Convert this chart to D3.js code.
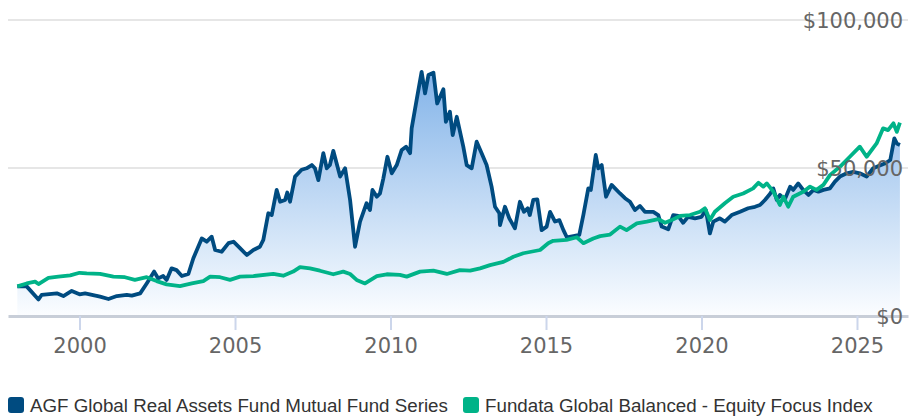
<!DOCTYPE html>
<html>
<head>
<meta charset="utf-8">
<script src="https://d3js.org/d3.v7.min.js"></script>
<style>
  body { margin: 0; background: #fff; }
</style>
</head>
<body>
<div id="chart"></div>
<script>

// growth of $10,000
var fundYears = [1998.00,1998.30,1998.68,1998.78,1999.27,1999.48,1999.75,2000.00,2000.18,2000.66,2000.93,2001.20,2001.52,2001.68,2001.95,
  2002.16,2002.40,2002.53,2002.69,2002.80,2002.96,2003.12,2003.29,2003.50,2003.66,2003.93,2004.09,2004.25,2004.36,2004.57,2004.79,2004.95,
  2005.16,2005.38,2005.59,2005.80,2005.91,2006.07,2006.18,2006.34,2006.45,2006.61,2006.68,2006.77,2006.93,2007.14,2007.30,2007.47,2007.57,
  2007.68,2007.84,2007.95,2008.05,2008.16,2008.38,2008.54,2008.70,2008.86,2009.02,2009.23,2009.34,2009.42,2009.56,2009.66,2009.77,2009.90,
  2010.04,2010.20,2010.36,2010.50,2010.63,2010.68,2010.84,2011.00,2011.11,2011.22,2011.38,2011.50,2011.70,2011.78,2011.91,2012.00,2012.13,
  2012.34,2012.45,2012.61,2012.77,2012.93,2013.09,2013.25,2013.36,2013.50,2013.52,2013.68,2013.82,2014.00,2014.16,2014.29,2014.41,2014.48,
  2014.59,2014.72,2014.86,2015.02,2015.13,2015.29,2015.43,2015.56,2015.67,2015.88,2016.07,2016.20,2016.36,2016.44,2016.60,2016.68,2016.79,
  2016.93,2017.11,2017.38,2017.54,2017.70,2017.86,2018.02,2018.18,2018.45,2018.61,2018.72,2018.93,2019.09,2019.25,2019.41,2019.57,2019.79,
  2020.00,2020.14,2020.27,2020.38,2020.59,2020.75,2020.97,2021.24,2021.50,2021.72,2021.88,2022.04,2022.20,2022.31,2022.42,2022.52,2022.68,
  2022.85,2022.95,2023.11,2023.27,2023.44,2023.60,2023.76,2023.92,2024.13,2024.29,2024.45,2024.67,2024.88,2025.09,2025.31,2025.52,2025.91,
  2026.07,2026.20,2026.28,2026.38];
var fundValues = [10000,10000,5600,7100,7650,6750,8450,7330,7650,6530,5740,6750,7100,6870,7650,
  11000,15000,12700,13500,12200,16100,15500,13500,14200,19500,26200,25100,26800,22300,21700,24600,25100,
  22900,20600,22300,23400,25700,34700,34100,42600,38600,39200,41700,38600,47100,49400,49900,51000,49900,
  45900,55000,49900,51000,55800,47100,49900,39200,23400,31900,38100,35800,42600,40300,41400,46500,53800,
  48200,51000,56100,57200,55000,63400,73000,82500,75200,81400,82200,71800,76600,65600,69000,61100,67300,
  57200,51000,49900,58900,55000,51000,43700,36900,34700,30700,36900,33000,29600,38600,35200,36400,34100,
  39200,39400,29000,30200,35200,31900,32400,29000,26600,27000,27400,34100,43100,42600,54400,49900,51000,
  40300,44300,41400,39800,38600,35800,37200,35200,35200,34100,30200,29300,34100,33800,31500,33500,33000,
  33500,35800,27900,31900,33000,31900,34100,35200,36400,36900,37500,39200,41200,43100,39200,40900,39400,
  43700,42600,44800,42600,40900,42600,42000,42600,43100,45400,47100,48200,48700,48200,47100,49900,51600,
  52700,60000,58300,57800];

var indexYears = [1998.00,1998.30,1998.57,1998.68,1999.00,1999.32,1999.70,2000.00,2000.23,2000.66,2001.09,2001.46,2001.78,2002.16,2002.48,
  2002.80,2003.23,2003.61,2003.98,2004.20,2004.52,2004.84,2005.16,2005.59,2006.23,2006.55,2006.87,2007.09,2007.41,2007.73,2008.16,2008.48,
  2008.70,2008.91,2009.18,2009.56,2009.88,2010.30,2010.52,2010.95,2011.38,2011.81,2012.23,2012.56,2012.88,2013.20,2013.63,2013.95,2014.27,
  2014.81,2015.07,2015.23,2015.66,2015.99,2016.20,2016.52,2016.74,2017.06,2017.38,2017.59,2017.92,2018.24,2018.61,2018.83,2019.04,2019.31,
  2019.63,2019.95,2020.11,2020.27,2020.43,2020.75,2021.02,2021.34,2021.66,2021.83,2021.99,2022.10,2022.31,2022.52,2022.63,2022.79,2022.95,
  2023.27,2023.49,2023.70,2023.92,2024.13,2024.45,2024.77,2025.09,2025.31,2025.63,2025.84,2026.00,2026.17,2026.28,2026.38];
var indexValues = [10000,11000,11600,10800,12900,13300,13700,14600,14400,14200,13300,13100,12200,13100,11800,
  10700,10100,11000,11800,13300,13100,12200,13300,13500,14200,13600,15000,16500,16100,15300,14100,15000,
  14200,12200,11000,13500,14100,13900,13300,15000,15300,14200,15500,15300,16100,17200,18300,20000,21200,
  22300,24600,25400,25700,26600,24600,26200,27000,27500,30200,29000,31300,31900,32700,31500,32400,33800,
  34100,35200,36400,32400,35200,38100,40300,41400,43100,45000,43700,44800,42000,37500,40300,36900,40300,
  42000,43700,42600,44300,47600,50400,53800,57200,53800,58300,63400,62800,65100,62200,65300];

var seriesNames = ["AGF Global Real Assets Fund Mutual Fund Series", "Fundata Global Balanced - Equity Focus Index"];
var seriesColors = ["#004b80", "#00b388"];
var yTicks = [0, 50000, 100000];
var xTicks = [2000, 2005, 2010, 2015, 2020, 2025];

var width = 918, height = 417;

var svg = d3.select("#chart").append("svg")
    .attr("width", width)
    .attr("height", height);

var x = d3.scaleLinear().domain([1997.70, 2026.64]).range([8, 908]);
var y = d3.scaleLinear().domain([0, 100000]).range([316, 20]);

var fund = fundYears.map(function(d, i) { return {year: d, value: fundValues[i]}; });
var index = indexYears.map(function(d, i) { return {year: d, value: indexValues[i]}; });

// gradient for the area under the fund
var defs = svg.append("defs");
var grad = defs.append("linearGradient")
    .attr("id", "areaGrad")
    .attr("gradientUnits", "userSpaceOnUse")
    .attr("x1", 0).attr("x2", 0)
    .attr("y1", y(85000)).attr("y2", y(0));
grad.append("stop").attr("offset", "0%").attr("stop-color", "#7fb1e8");
grad.append("stop").attr("offset", "100%").attr("stop-color", "#fbfdff");

// gridlines
svg.append("g").selectAll("line")
    .data(yTicks.filter(function(d) { return d > 0; }))
  .enter().append("line")
    .attr("x1", 8).attr("x2", 908)
    .attr("y1", function(d) { return y(d); })
    .attr("y2", function(d) { return y(d); })
    .attr("stroke", "#e6e6e6")
    .attr("stroke-width", 2);

// area
svg.append("path")
    .datum(fund)
    .attr("fill", "url(#areaGrad)")
    .attr("d", d3.area()
      .x(function(d) { return x(d.year); })
      .y0(y(0))
      .y1(function(d) { return y(d.value); }));

// x axis
var xAxis = svg.append("g")
    .attr("transform", "translate(0," + y(0) + ")")
    .call(d3.axisBottom(x).tickValues(xTicks).tickFormat(d3.format("d")).tickSize(14).tickSizeOuter(0));
xAxis.select(".domain").attr("stroke", "#c8ced8").attr("stroke-width", 3);
xAxis.selectAll(".tick line").attr("stroke", "#ccd6eb").attr("stroke-width", 2);
xAxis.selectAll(".tick text")
    .attr("fill", "#666")
    .attr("font-family", "DejaVu Sans")
    .attr("font-size", "21px")
    .attr("y", 22)
    .attr("dy", "0.71em");

// lines
var line = d3.line()
    .x(function(d) { return x(d.year); })
    .y(function(d) { return y(d.value); });

svg.append("path")
    .datum(fund)
    .attr("fill", "none")
    .attr("stroke", seriesColors[0])
    .attr("stroke-width", 3.8)
    .attr("stroke-linejoin", "round")
    .attr("d", line);

svg.append("path")
    .datum(index)
    .attr("fill", "none")
    .attr("stroke", seriesColors[1])
    .attr("stroke-width", 3.8)
    .attr("stroke-linejoin", "round")
    .attr("d", line);

// y labels on the right
svg.append("g").selectAll("text")
    .data(yTicks)
  .enter().append("text")
    .attr("x", 903)
    .attr("y", function(d) { return y(d); })
    .attr("dy", "0.36em")
    .attr("text-anchor", "end")
    .attr("fill", "#666")
    .attr("font-family", "DejaVu Sans")
    .attr("font-size", "21px")
    .text(function(d) { return "$" + d3.format(",")(d); });

// legend
var legendX = [8, 463];
var legend = svg.append("g").selectAll("g")
    .data(seriesNames)
  .enter().append("g")
    .attr("transform", function(d, i) { return "translate(" + legendX[i] + ",397)"; });
legend.append("rect")
    .attr("width", 16).attr("height", 16)
    .attr("rx", 3)
    .attr("fill", function(d, i) { return seriesColors[i]; });
legend.append("text")
    .attr("x", 22)
    .attr("y", 15)
    .attr("fill", "#333")
    .attr("font-family", "Liberation Sans, Arial, sans-serif")
    .attr("font-size", "18.75px")
    .text(function(d) { return d; });

</script>
</body>
</html>
